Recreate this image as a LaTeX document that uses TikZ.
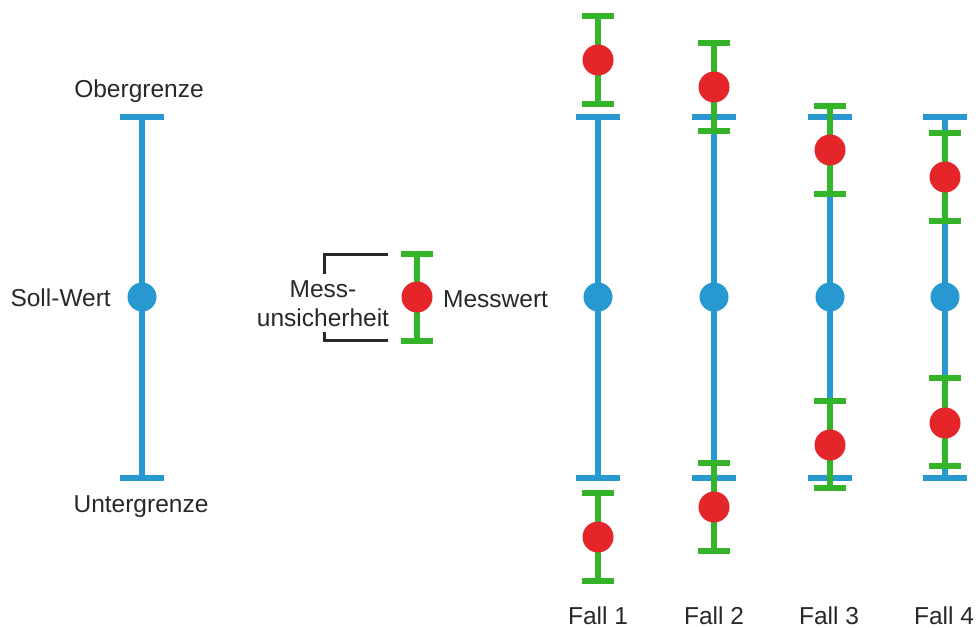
\documentclass[tikz,border=0pt]{standalone}
\usepackage{fontspec}
\setmainfont{Liberation Sans}
\definecolor{limitblue}{RGB}{40,153,208}
\definecolor{errgreen}{RGB}{52,180,40}
\definecolor{dotred}{RGB}{228,38,42}
\definecolor{txtgray}{RGB}{40,40,40}
\begin{document}
\begin{tikzpicture}[x=1pt,y=-1pt,
  blueline/.style={draw=limitblue,line width=6pt},
  greenline/.style={draw=errgreen,line width=6pt},
  bracketline/.style={draw=txtgray,line width=3pt},
  solldot/.style={circle,fill=limitblue,minimum size=29pt,inner sep=0pt},
  messdot/.style={circle,fill=dotred,minimum size=31pt,inner sep=0pt},
  lbl/.style={font=\fontsize{24.5}{29}\selectfont,text=txtgray,inner sep=0pt}]
\useasboundingbox (0,0) rectangle (976,628);

% tolerance bars: upper and lower limit with nominal value
\foreach \i/\x in {0/142,1/598,2/714,3/830,4/945}{
  \coordinate (top\i) at (\x,117);
  \coordinate (bot\i) at (\x,478);
  \draw[blueline] (top\i) -- (bot\i);
  \draw[blueline] ([xshift=-22pt]top\i) -- ([xshift=22pt]top\i);
  \draw[blueline] ([xshift=-22pt]bot\i) -- ([xshift=22pt]bot\i);
  \node[solldot] (soll\i) at (\x,297) {};
}

% measured values with their uncertainty
\foreach \n/\x/\a/\m/\b in {leg/417/254/297/341,
    fa/598/16/60/104, fb/598/493/537/581,
    ga/714/43/87/131, gb/714/463/507/551,
    ha/830/106/150/194, hb/830/401/445/488,
    ka/945/133/177/221, kb/945/378/423/466}{
  \coordinate (\n up) at (\x,\a);
  \coordinate (\n lo) at (\x,\b);
  \draw[greenline] (\n up) -- (\n lo);
  \draw[greenline] ([xshift=-16pt]\n up) -- ([xshift=16pt]\n up);
  \draw[greenline] ([xshift=-16pt]\n lo) -- ([xshift=16pt]\n lo);
  \node[messdot] (\n dot) at (\x,\m) {};
}

% bracket marking the uncertainty
\coordinate (brA) at (388,254);
\coordinate (brB) at (324,254);
\coordinate (brC) at (324,274);
\coordinate (brD) at (324,332);
\coordinate (brE) at (324,340);
\coordinate (brF) at (388,340);
\draw[bracketline] (brA) -- (brB) -- (brC);
\draw[bracketline] (brD) -- (brE) -- (brF);

% labels
\node[lbl,anchor=base] (ober) at (139,98) {Obergrenze};
\node[lbl,anchor=base] (unter) at (141,512) {Untergrenze};
\node[lbl,anchor=base east] (sollw) at (111,306) {Soll-Wert};
\node[lbl,anchor=base west] (messw) at (443,307) {Messwert};
\node[lbl,anchor=base] (mess1) at (323,297) {Mess-};
\node[lbl,anchor=base] (mess2) at (323,326) {unsicherheit};
\foreach \i/\x in {1/598,2/714,3/829,4/944}{
  \node[lbl,anchor=base] (fall\i) at (\x,624) {Fall \i};
}
\end{tikzpicture}
\end{document}
